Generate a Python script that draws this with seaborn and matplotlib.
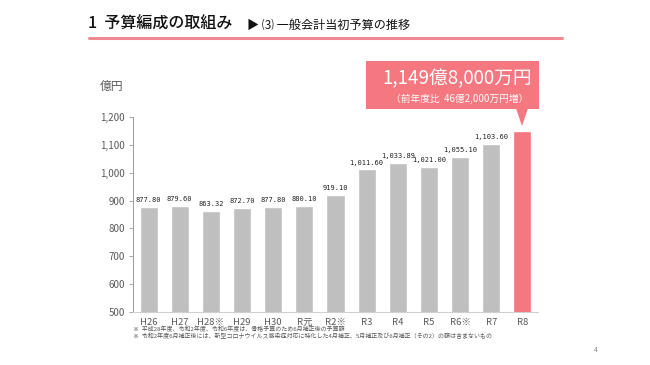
import matplotlib
matplotlib.use("Agg")
import matplotlib.pyplot as plt
import seaborn as sns
import pandas as pd
from matplotlib.patches import Rectangle, Polygon
from matplotlib.lines import Line2D

categories = ["H26", "H27", "H28※", "H29", "H30", "R元", "R2※", "R3", "R4", "R5", "R6※", "R7", "R8"]
values = [877.80, 879.60, 863.32, 872.70, 877.80, 880.10, 919.10, 1011.60, 1033.89, 1021.00, 1055.10, 1103.60, 1149.80]
value_labels = ["877.80", "879.60", "863.32", "872.70", "877.80", "880.10", "919.10",
                "1,011.60", "1,033.89", "1,021.00", "1,055.10", "1,103.60", ""]
y_ticks = [500, 600, 700, 800, 900, 1000, 1100, 1200]

GRAY = "#bfbfbf"
PINK = "#f5777f"

sns.set_theme(style="white")
plt.rcParams["font.family"] = ["Noto Sans CJK JP", "DejaVu Sans"]

W, H = 650, 365
fig = plt.figure(figsize=(6.5, 3.65), dpi=100)
ax = fig.add_axes([133 / W, 1 - 312 / H, (538 - 133) / W, (312 - 117) / H])

df = pd.DataFrame({"cat": categories, "val": values})
colors = [GRAY] * (len(categories) - 1) + [PINK]
sns.barplot(data=df, x="cat", y="val", hue="cat", palette=colors, legend=False,
            width=0.58, ax=ax, saturation=1)

ax.set_ylim(500, 1200)
ax.set_xlim(-0.5, len(categories) - 0.5)
ax.set_yticks(y_ticks)
ax.set_yticklabels([f"{v:,}" for v in y_ticks])
ax.set_xlabel("")
ax.set_ylabel("")
for s in ["top", "right"]:
    ax.spines[s].set_visible(False)
ax.spines["left"].set_color("#9a9a9a")
ax.spines["left"].set_linewidth(0.7)
ax.spines["bottom"].set_color("#cfcfcf")
ax.spines["bottom"].set_linewidth(0.8)
ax.tick_params(axis="y", left=True, length=3, width=0.6, color="#9a9a9a",
               labelsize=7, labelcolor="#595959", pad=3)
ax.tick_params(axis="x", bottom=False, labelsize=6.8, labelcolor="#595959", pad=-1.5)

for i, (v, lab) in enumerate(zip(values, value_labels)):
    if lab:
        ax.text(i, v + 14, lab, ha="center", va="bottom", fontsize=5,
                family="DejaVu Sans Mono", color="#222222")

# Title
fig.text(88 / W, 1 - 24 / H, "1  予算編成の取組み", fontsize=11.5, color="#111111",
         va="center", ha="left", fontweight="medium")
fig.text(247 / W, 1 - 25 / H, "▶ ⑶ 一般会計当初予算の推移", fontsize=8.7,
         color="#111111", va="center", ha="left",
         family=["Noto Sans CJK JP", "DejaVu Sans"])
fig.add_artist(Line2D([89 / W, 562 / W], [1 - 38 / H, 1 - 38 / H], color="#f08a92",
                      linewidth=2.2, transform=fig.transFigure))

# Unit label
fig.text(100 / W, 1 - 86 / H, "億円", fontsize=8.5, color="#595959", va="center", ha="left")

# Callout
bx0, bx1, by0, by1 = 366 / W, 539 / W, 1 - 109 / H, 1 - 61 / H
fig.add_artist(Rectangle((bx0, by0), bx1 - bx0, by1 - by0, facecolor=PINK,
                         edgecolor="none", transform=fig.transFigure))
fig.add_artist(Polygon([(516 / W, by0 + 0.002), (528 / W, by0 + 0.002), (522 / W, 1 - 126 / H)],
                       closed=True, facecolor=PINK, edgecolor="none",
                       transform=fig.transFigure))
fig.text(457 / W, 1 - 79 / H, "1,149億8,000万円", fontsize=13.5, color="white",
         ha="center", va="center")
fig.text(460 / W, 1 - 99 / H, "（前年度比  46億2,000万円増）", fontsize=7, color="white",
         ha="center", va="center")

# Footnotes
fig.text(133 / W, 1 - 329 / H, "※  平成28年度、令和2年度、令和6年度は、骨格予算のため6月補正後の予算額",
         fontsize=4.3, color="#555555", va="center", ha="left")
fig.text(133 / W, 1 - 336 / H,
         "※  令和2年度6月補正後には、新型コロナウイルス感染症対応に特化した4月補正、5月補正及び6月補正（その2）の額は含まないもの",
         fontsize=4.3, color="#555555", va="center", ha="left")

# Page number
fig.text(596 / W, 1 - 350 / H, "4", fontsize=5, color="#888888", ha="center", va="center")

fig.savefig("out.png", dpi=100)
